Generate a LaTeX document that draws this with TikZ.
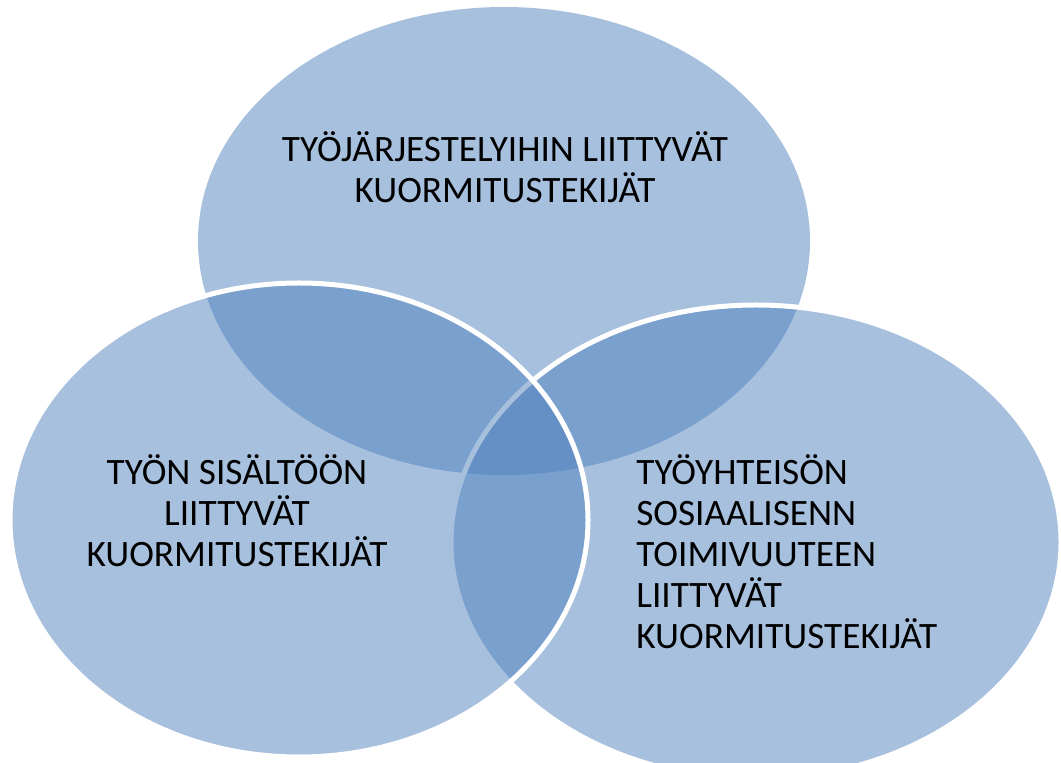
\documentclass[tikz,border=0pt]{standalone}
\usepackage{fontspec}
\setmainfont{Carlito}
\usepackage{tikz}
\usetikzlibrary{positioning}
\definecolor{vennblue}{RGB}{79,129,189}
\tikzset{
    % Venn circle - half transparent Office blue
    venn circle/.style={fill=vennblue, fill opacity=0.5},
    % Circle outline - white ring
    venn ring/.style={venn circle, draw=white, line width=0.1cm},
    % Labels inside the circles
    venn label/.style={font=\fontsize{21.2}{23.3}\selectfont, text=black, inner sep=0pt}
}
\begin{document}
\begin{tikzpicture}
    % --- Canvas ---
    \useasboundingbox (0,0) rectangle (21.22,15.24);

    % --- Circles (top, right, left) ---
    \path[venn circle] (10.08,10.42) ellipse [x radius=6.12, y radius=4.68];
    \draw[venn ring] (15.12,4.40) ellipse [x radius=6.10, y radius=4.74];
    \draw[venn ring] (5.98,4.84) ellipse [x radius=5.78, y radius=4.74];

    % --- Labels ---
    \node[venn label, align=center] (jarjestely) at (10.1,11.9)
        {TYÖJÄRJESTELYIHIN LIITTYVÄT\\KUORMITUSTEKIJÄT};
    \node[venn label, align=center] (sisalto) at (4.74,5.02)
        {TYÖN SISÄLTÖÖN\\LIITTYVÄT\\KUORMITUSTEKIJÄT};
    \node[venn label, align=left, anchor=west] (yhteiso) at (12.72,4.21)
        {TYÖYHTEISÖN\\SOSIAALISENN\\TOIMIVUUTEEN\\LIITTYVÄT\\KUORMITUSTEKIJÄT};

\end{tikzpicture}
\end{document}
